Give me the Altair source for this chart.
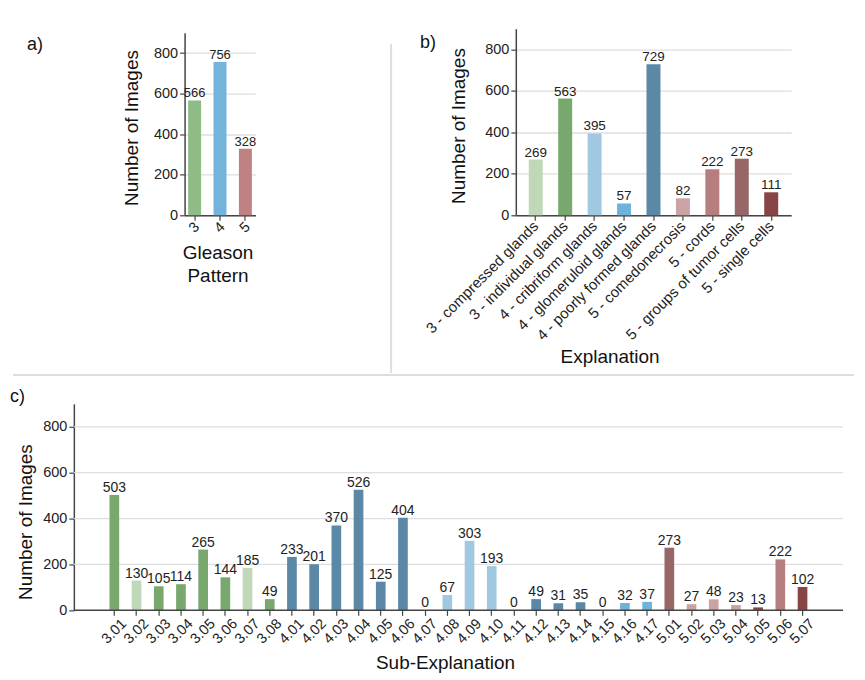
import altair as alt
import pandas as pd

FONT = "Liberation Sans"

# ---------------- data ----------------
patterns = ["3", "4", "5"]
pattern_counts = [566, 756, 328]
pattern_colors = ["#8fbc86", "#72b4dc", "#bf8181"]

explanations = ["3 - compressed glands", "3 - individual glands", "4 - cribriform glands",
                "4 - glomeruloid glands", "4 - poorly formed glands", "5 - comedonecrosis",
                "5 - cords", "5 - groups of tumor cells", "5 - single cells"]
explanation_counts = [269, 563, 395, 57, 729, 82, 222, 273, 111]
explanation_colors = ["#bed8b8", "#78a86e", "#a0c9e1", "#6db3dc", "#5b88a7",
                      "#caa4a4", "#b67e7e", "#976666", "#874546"]

sub_labels = ["3.01", "3.02", "3.03", "3.04", "3.05", "3.06", "3.07", "3.08",
              "4.01", "4.02", "4.03", "4.04", "4.05", "4.06", "4.07", "4.08", "4.09",
              "4.10", "4.11", "4.12", "4.13", "4.14", "4.15", "4.16", "4.17",
              "5.01", "5.02", "5.03", "5.04", "5.05", "5.06", "5.07"]
sub_counts = [503, 130, 105, 114, 265, 144, 185, 49,
              233, 201, 370, 526, 125, 404, 0, 67, 303,
              193, 0, 49, 31, 35, 0, 32, 37,
              273, 27, 48, 23, 13, 222, 102]
sub_groups = [1, 0, 1, 1, 1, 1, 0, 1,
              4, 4, 4, 4, 4, 4, 2, 2, 2,
              2, 2, 4, 4, 4, 3, 3, 3,
              7, 5, 5, 5, 8, 6, 8]

y_ticks = [0, 200, 400, 600, 800]

df_a = pd.DataFrame({"pattern": patterns, "count": pattern_counts})
df_b = pd.DataFrame({"explanation": explanations, "count": explanation_counts})
df_c = pd.DataFrame({"sub": sub_labels, "count": sub_counts,
                     "group": [explanations[g] for g in sub_groups]})
df_grid = pd.DataFrame({"count": y_ticks[1:]})
one = pd.DataFrame({"k": [0]})

GRID = "#dedede"
DOMAIN = "#444444"


def y_axis(tx, ty, grid=True):
    return alt.Axis(title="Number of Images", values=y_ticks, grid=grid,
                    titleX=tx, titleY=ty, titleBaseline="bottom")


def tag(txt, x, y):
    return alt.Chart(one).mark_text(text=txt, align="left", baseline="alphabetic",
                                    fontSize=18, font=FONT, color="#111").encode(
        x=alt.value(x), y=alt.value(y))


def value_labels(base, size):
    return base.mark_text(dy=-3, baseline="alphabetic", fontSize=size, font=FONT,
                          color="#222").encode(text="count:Q")


def spacer(w):
    return alt.Chart(one).mark_point(opacity=0, size=1).encode(
        x=alt.value(5), y=alt.value(5)).properties(width=w, height=10)


# ---------------- panel a ----------------
base_a = alt.Chart(df_a).encode(
    x=alt.X("pattern:N", sort=patterns,
            scale=alt.Scale(paddingInner=0.49, paddingOuter=0.14),
            axis=alt.Axis(title=["Gleason", "Pattern"], labelAngle=-45, labelAlign="center",
                          labelBaseline="middle", labelPadding=7, grid=False,
                          titleX=33, titleY=43, titleBaseline="alphabetic",
                          titleLineHeight=23)),
    y=alt.Y("count:Q", scale=alt.Scale(domain=[0, 900], nice=False, range=[187, 4]),
            axis=y_axis(-43, 99)),
)
bars_a = base_a.mark_bar().encode(
    color=alt.Color("pattern:N", scale=alt.Scale(domain=patterns, range=pattern_colors),
                    legend=None))
panel_a = alt.layer(bars_a, value_labels(base_a, 13), tag("a)", -158, 21)).properties(
    width=71, height=187)

# ---------------- panel b ----------------
base_b = alt.Chart(df_b).encode(
    x=alt.X("explanation:N", sort=explanations,
            scale=alt.Scale(paddingInner=0.525, paddingOuter=0.44),
            axis=alt.Axis(title="Explanation", labelAngle=-45, labelAlign="right",
                          labelBaseline="middle", labelPadding=3, grid=False,
                          labelFontSize=15,
                          titleX=94, titleY=148, titleBaseline="alphabetic")),
    y=alt.Y("count:Q", scale=alt.Scale(domain=[0, 900], nice=False), axis=y_axis(-47, 97)),
)
bars_b = base_b.mark_bar().encode(
    color=alt.Color("explanation:N",
                    scale=alt.Scale(domain=explanations, range=explanation_colors),
                    legend=None))
sep_v = alt.Chart(one).mark_rule(color="#dddddd", strokeWidth=2).encode(
    x=alt.value(-125), y=alt.value(15), y2=alt.value(345))
panel_b = alt.layer(bars_b, value_labels(base_b, 13.5), tag("b)", -96, 19), sep_v).properties(
    width=276, height=187)

# ---------------- panel c ----------------
C_W = 771
y_scale_c = alt.Scale(domain=[0, 900], nice=False)
y_axis_c = y_axis(-38, 118, grid=False)
base_c = alt.Chart(df_c).encode(
    x=alt.X("sub:N", sort=sub_labels,
            scale=alt.Scale(paddingInner=0.564, paddingOuter=1, range=[13.5, 757.5]),
            axis=alt.Axis(title="Sub-Explanation", labelAngle=-45, labelAlign="center",
                          labelBaseline="middle", labelPadding=16, grid=False, domain=False,
                          titleX=372, titleY=58, titleBaseline="alphabetic")),
    y=alt.Y("count:Q", scale=y_scale_c, axis=y_axis_c),
)
grid_c = alt.Chart(df_grid).mark_rule(color=GRID, strokeWidth=1.3).encode(
    y=alt.Y("count:Q", scale=y_scale_c, axis=y_axis_c), x=alt.value(0), x2=alt.value(C_W))
bars_c = base_c.mark_bar().encode(
    color=alt.Color("group:N",
                    scale=alt.Scale(domain=explanations, range=explanation_colors),
                    legend=None))
base_line_c = alt.Chart(one).mark_rule(color=DOMAIN, strokeWidth=1.5).encode(
    y=alt.datum(0), x=alt.value(0), x2=alt.value(C_W))
sep_h = alt.Chart(one).mark_rule(color="#dddddd", strokeWidth=2).encode(
    x=alt.value(-61), x2=alt.value(782), y=alt.value(-29))
panel_c = alt.layer(grid_c, bars_c, base_line_c, value_labels(base_c, 14),
                    tag("c)", -64, -2), sep_h).properties(width=C_W, height=207)

top = alt.hconcat(spacer(111), panel_a, spacer(261), panel_b,
                  spacing=0, bounds="flush").resolve_scale(color="independent")
chart = alt.vconcat(top, panel_c, spacing=376, bounds="flush").resolve_scale(
    color="independent"
).properties(
    padding={"left": 2, "top": 20, "right": 2, "bottom": 2}
).configure_view(stroke=None).configure_axis(
    labelFont=FONT, titleFont=FONT, labelFontSize=14.5, titleFontSize=19,
    labelColor="#222", titleColor="#111", titleFontWeight="normal",
    domainColor=DOMAIN, tickColor=DOMAIN, domainWidth=1.5, tickWidth=1.2, tickSize=5,
    gridColor=GRID, gridWidth=1.3,
)

chart.save("out.html", embed_options={"renderer": "svg", "actions": False})
